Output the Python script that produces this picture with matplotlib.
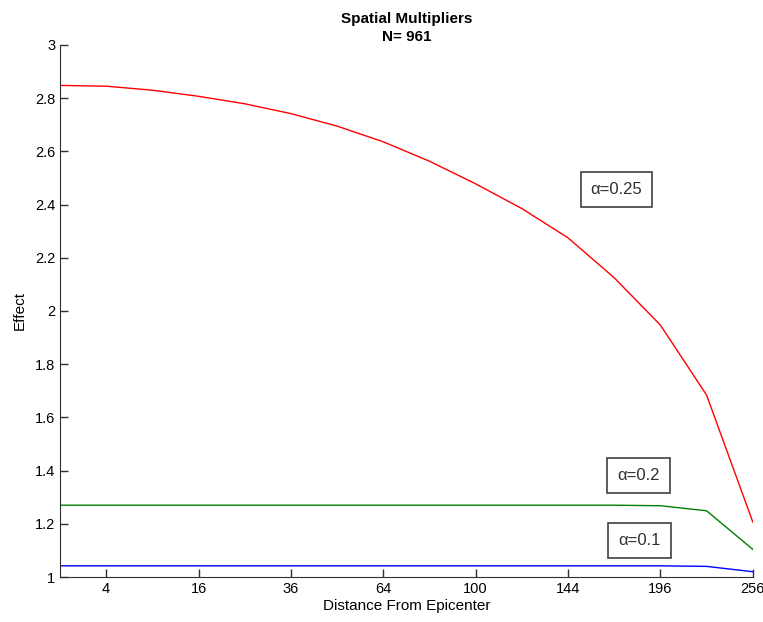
import numpy as np
import matplotlib
matplotlib.use("Agg")
from matplotlib import pyplot as plt

plt.rcParams['font.family'] = ['Liberation Sans', 'DejaVu Sans']

# sqrt of distance from epicenter (plotted position), 1..16
root_dist = [1, 2, 3, 4, 5, 6, 7, 8, 9, 10, 11, 12, 13, 14, 15, 16]
alpha_025 = [2.848, 2.845, 2.83, 2.807, 2.779, 2.742, 2.695, 2.636, 2.563,
             2.478, 2.385, 2.275, 2.125, 1.947, 1.684, 1.207]
alpha_02 = [1.27, 1.27, 1.27, 1.27, 1.27, 1.27, 1.27, 1.27, 1.27,
            1.27, 1.27, 1.27, 1.27, 1.268, 1.249, 1.104]
alpha_01 = [1.042, 1.042, 1.042, 1.042, 1.042, 1.042, 1.042, 1.042, 1.042,
            1.042, 1.042, 1.042, 1.042, 1.042, 1.04, 1.02]

tick_pos = [2, 4, 6, 8, 10, 12, 14, 16]
tick_labels = ['4', '16', '36', '64', '100', '144', '196', '256']
y_ticks = [1, 1.2, 1.4, 1.6, 1.8, 2, 2.2, 2.4, 2.6, 2.8, 3]

fig = plt.figure(figsize=(7.63, 6.22), dpi=100)
ax = fig.add_axes([0.0786, 0.0723, 0.908, 0.8554])

ax.plot(root_dist, alpha_025, color='#ff0000', lw=1)
ax.plot(root_dist, alpha_02, color='#008000', lw=1)
ax.plot(root_dist, alpha_01, color='#0000ff', lw=1)

ax.set_xlim(1, 16)
ax.set_ylim(1, 3)
ax.set_xticks(tick_pos)
ax.set_xticklabels(tick_labels)
ax.set_yticks(y_ticks)
ax.set_yticklabels(['1', '1.2', '1.4', '1.6', '1.8', '2', '2.2', '2.4', '2.6', '2.8', '3'])
ax.tick_params(direction='in', length=6, labelsize=10.5, width=1, color='#303030')
ax.spines['top'].set_visible(False)
ax.spines['right'].set_visible(False)
ax.spines['left'].set_color('#303030')
ax.spines['bottom'].set_color('#303030')

ax.set_xlabel('Distance From Epicenter', fontsize=11, labelpad=2)
ax.set_ylabel('Effect', fontsize=11, labelpad=6)
ax.set_title('Spatial Multipliers\nN= 961', fontsize=11, fontweight='bold', linespacing=1.35, pad=3)

box = dict(boxstyle='square,pad=0.6', facecolor='white', edgecolor='#404040', lw=1.2)
ax.text(13.05, 2.455, '\u03b1=0.25', ha='center', va='center', fontsize=12, bbox=box, color='#303030')
ax.text(13.53, 1.383, '\u03b1=0.2', ha='center', va='center', fontsize=12, bbox=box, color='#303030')
ax.text(13.55, 1.139, '\u03b1=0.1', ha='center', va='center', fontsize=12, bbox=box, color='#303030')

fig.savefig('out.png', dpi=100)
